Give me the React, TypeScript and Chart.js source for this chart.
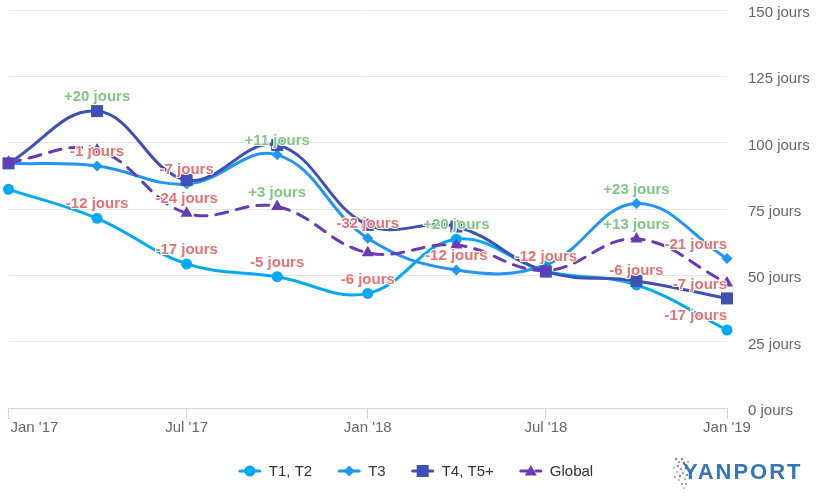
import React, { useEffect, useRef } from 'react';
import { Chart, registerables } from 'chart.js';

Chart.register(...registerables);

// ---- Data ----
const quarters = ['2017-01-01', '2017-04-01', '2017-07-01', '2017-10-01', '2018-01-01', '2018-04-01', '2018-07-01', '2018-10-01', '2019-01-01'];
const t1t2 = [82.4, 71.5, 54.3, 49.5, 43.2, 63.6, 51.6, 46.4, 29.4];
const t3 = [92.2, 91.2, 84.4, 95.4, 64.0, 52.0, 54.0, 77.1, 56.3];
const t4t5 = [92.2, 111.9, 85.9, 99.1, 69.0, 68.4, 51.4, 47.9, 41.3];
const globalVals = [92.6, 97.2, 73.4, 75.9, 58.5, 61.4, 51.8, 63.7, 47.1];

// quarter-over-quarter change labels (null = label hidden in the reference)
const t1t2Labels = [null, -12, -17, -5, -6, 20, -12, -6, -17];
const t3Labels = [null, -1, -7, 11, -32, -12, null, 23, -21];
const t4t5Labels = [null, 20, null, null, null, null, null, null, -7];
const globalLabels = [null, null, -24, 3, null, null, null, 13, null];

const xTickDates = ['2017-01-01', '2017-07-01', '2018-01-01', '2018-07-01', '2019-01-01'];
const xTickLabels = ["Jan '17", "Jul '17", "Jan '18", "Jul '18", "Jan '19"];
const yTicks = [0, 25, 50, 75, 100, 125, 150];
const yUnit = ' jours';

const seriesNames = ['T1, T2', 'T3', 'T4, T5+', 'Global'];
const seriesColors = ['#03A9F4', '#2196F3', '#3F51B5', '#673AB7'];
const seriesStyles = ['circle', 'rectRot', 'rect', 'triangle'];
const seriesRadius = [5.5, 5.5, 8.5, 7];
const seriesValues = [t1t2, t3, t4t5, globalVals];
const seriesLabels = [t1t2Labels, t3Labels, t4t5Labels, globalLabels];

const DAY = 86400000;
const origin = Date.parse(quarters[0]);
const toDays = (s: string) => Math.round((Date.parse(s) - origin) / DAY);
const xTickDays = xTickDates.map(toDays);

const FONT = '"Liberation Sans", Arial, Helvetica, sans-serif';
const GREEN = '#81C784';
const RED = '#E57373';

function drawMarker(ctx: CanvasRenderingContext2D, style: string, x: number, y: number, r: number, color: string) {
  ctx.save();
  ctx.fillStyle = color;
  ctx.setLineDash([]);
  ctx.beginPath();
  if (style === 'circle') {
    ctx.arc(x, y, r, 0, Math.PI * 2);
  } else if (style === 'rectRot') {
    ctx.moveTo(x, y - r);
    ctx.lineTo(x + r, y);
    ctx.lineTo(x, y + r);
    ctx.lineTo(x - r, y);
    ctx.closePath();
  } else if (style === 'rect') {
    const s = r * Math.SQRT1_2;
    ctx.rect(x - s, y - s, 2 * s, 2 * s);
  } else {
    const h = r * 0.85;
    ctx.moveTo(x, y - h);
    ctx.lineTo(x + h, y + h * 0.75);
    ctx.lineTo(x - h, y + h * 0.75);
    ctx.closePath();
  }
  ctx.fill();
  ctx.restore();
}

const pointLabelPlugin = {
  id: 'pointLabels',
  afterDatasetsDraw(chart: any) {
    const ctx = chart.ctx as CanvasRenderingContext2D;
    const area = chart.chartArea;
    ctx.save();
    ctx.font = `bold 15px ${FONT}`;
    ctx.textAlign = 'center';
    ctx.textBaseline = 'middle';
    ctx.lineJoin = 'round';
    seriesLabels.forEach((labels, di) => {
      const meta = chart.getDatasetMeta(di);
      labels.forEach((v, i) => {
        if (v == null) return;
        const pt = meta.data[i];
        const text = (v > 0 ? '+' : '') + v + yUnit;
        const w = ctx.measureText(text).width;
        let x = pt.x;
        if (x + w / 2 > area.right) x = area.right - w / 2;
        if (x - w / 2 < area.left) x = area.left + w / 2;
        const y = pt.y - 14;
        ctx.strokeStyle = '#ffffff';
        ctx.lineWidth = 2;
        ctx.strokeText(text, x, y);
        ctx.fillStyle = v > 0 ? GREEN : RED;
        ctx.fillText(text, x, y);
      });
    });
    ctx.restore();
  },
};

const decorPlugin = {
  id: 'decor',
  afterDraw(chart: any) {
    const ctx = chart.ctx as CanvasRenderingContext2D;
    const area = chart.chartArea;
    const xScale = chart.scales.x;
    ctx.save();
    // x tick labels
    ctx.font = `15px ${FONT}`;
    ctx.fillStyle = '#666666';
    ctx.textBaseline = 'middle';
    xTickDays.forEach((d, i) => {
      const px = xScale.getPixelForValue(d);
      const text = xTickLabels[i];
      if (i === 0) {
        ctx.textAlign = 'left';
        ctx.fillText(text, area.left + 2, 428);
      } else {
        ctx.textAlign = 'center';
        ctx.fillText(text, px, 428);
      }
    });

    // legend
    const ly = 471;
    ctx.font = `15px ${FONT}`;
    const symW = 22, gapText = 8, gapItem = 26;
    const widths = seriesNames.map((n) => ctx.measureText(n).width);
    const total = widths.reduce((a, w) => a + symW + gapText + w, 0) + gapItem * (seriesNames.length - 1);
    let x = 416 - total / 2;
    seriesNames.forEach((name, i) => {
      ctx.save();
      ctx.strokeStyle = seriesColors[i];
      ctx.lineWidth = 3;
      ctx.lineCap = 'round';
      if (i === 3) ctx.setLineDash([7, 8]);
      ctx.beginPath();
      ctx.moveTo(x + 1, ly);
      ctx.lineTo(x + symW - 1, ly);
      ctx.stroke();
      ctx.restore();
      drawMarker(ctx, seriesStyles[i], x + symW / 2, ly, seriesRadius[i], seriesColors[i]);
      ctx.fillStyle = '#333333';
      ctx.textAlign = 'left';
      ctx.textBaseline = 'middle';
      ctx.fillText(name, x + symW + gapText, ly + 1);
      x += symW + gapText + widths[i] + gapItem;
    });

    // logo
    const dots: [number, number, number, string][] = [
      [676, 459, 1.2, '#c86b6b'], [679, 462, 1.0, '#5f8fc0'], [682, 459, 1.1, '#3576B8'], [678, 466, 1.3, '#7aa0c8'],
      [681, 469, 1.0, '#d07a7a'], [684, 463, 1.2, '#3576B8'], [677, 472, 1.0, '#8fb0d0'], [680, 476, 1.2, '#5f8fc0'],
      [683, 473, 1.0, '#c86b6b'], [686, 468, 1.3, '#3576B8'], [679, 480, 1.0, '#8fb0d0'], [682, 484, 1.1, '#5f8fc0'],
      [685, 479, 1.0, '#7aa0c8'], [675, 477, 0.9, '#c86b6b'], [687, 475, 1.0, '#3576B8'], [684, 488, 0.9, '#8fb0d0'],
      [688, 462, 1.0, '#7aa0c8'], [690, 470, 1.0, '#5f8fc0'], [674, 468, 0.9, '#8fb0d0'], [686, 484, 0.9, '#c86b6b'],
    ];
    dots.forEach(([dx, dy, r, c]) => {
      ctx.beginPath();
      ctx.fillStyle = c;
      ctx.arc(dx, dy, r, 0, Math.PI * 2);
      ctx.fill();
    });
    ctx.font = `bold 22px ${FONT}`;
    (ctx as any).letterSpacing = '2px';
    ctx.fillStyle = '#3576B8';
    ctx.textAlign = 'left';
    ctx.textBaseline = 'alphabetic';
    ctx.fillText('YANPORT', 683, 479);
    ctx.restore();
  },
};

export default function App() {
  const canvasRef = useRef<HTMLCanvasElement | null>(null);

  useEffect(() => {
    document.body.style.margin = '0';
    const canvas = canvasRef.current;
    if (!canvas) return;
    const datasets = seriesNames.map((name, i) => ({
      label: name,
      data: seriesValues[i].map((v, j) => ({ x: toDays(quarters[j]), y: v })),
      borderColor: seriesColors[i],
      backgroundColor: seriesColors[i],
      borderWidth: 3,
      borderDash: i === 3 ? [12, 9] : [],
      borderCapStyle: 'round' as const,
      tension: 0.4,
      pointStyle: seriesStyles[i],
      pointRadius: seriesRadius[i],
      pointBorderWidth: 0,
      pointBackgroundColor: seriesColors[i],
      pointHoverRadius: seriesRadius[i],
      clip: false as const,
      order: seriesNames.length - i,
      fill: false,
    }));

    const chart = new Chart(canvas, {
      type: 'line',
      data: { datasets },
      options: {
        animation: false,
        responsive: false,
        devicePixelRatio: 1,
        events: [],
        layout: { padding: { top: 10, left: 8, right: 0, bottom: 0 } },
        plugins: {
          legend: { display: false },
          tooltip: { enabled: false },
          title: { display: false },
        },
        scales: {
          x: {
            type: 'linear',
            min: xTickDays[0],
            max: xTickDays[xTickDays.length - 1],
            afterBuildTicks: (scale: any) => {
              scale.ticks = xTickDays.map((v) => ({ value: v }));
            },
            afterFit: (scale: any) => {
              scale.height = 96;
              scale.paddingLeft = 0;
              scale.paddingRight = 0;
            },
            ticks: { display: false },
            grid: {
              display: true,
              drawOnChartArea: false,
              drawTicks: true,
              tickLength: 11,
              color: '#ccd6eb',
              lineWidth: 1,
            },
            border: { display: true, color: '#ccd6eb', width: 1 },
          },
          y: {
            type: 'linear',
            position: 'right',
            min: yTicks[0],
            max: yTicks[yTicks.length - 1],
            afterBuildTicks: (scale: any) => {
              scale.ticks = yTicks.map((v) => ({ value: v }));
            },
            afterFit: (scale: any) => {
              scale.width = 100;
              scale.paddingTop = 0;
              scale.paddingBottom = 0;
            },
            ticks: {
              padding: 21,
              labelOffset: 3,
              color: '#666666',
              font: { size: 15, family: FONT },
              callback: (v: any) => v + yUnit,
            },
            grid: { color: '#e6e6e6', lineWidth: 1, drawTicks: false },
            border: { display: false },
          },
        },
      },
      plugins: [pointLabelPlugin, decorPlugin],
    });
    return () => chart.destroy();
  }, []);

  return (
    <div style={{ width: 827, height: 504, background: '#ffffff' }}>
      <canvas ref={canvasRef} width={827} height={504} style={{ display: 'block' }} />
    </div>
  );
}
